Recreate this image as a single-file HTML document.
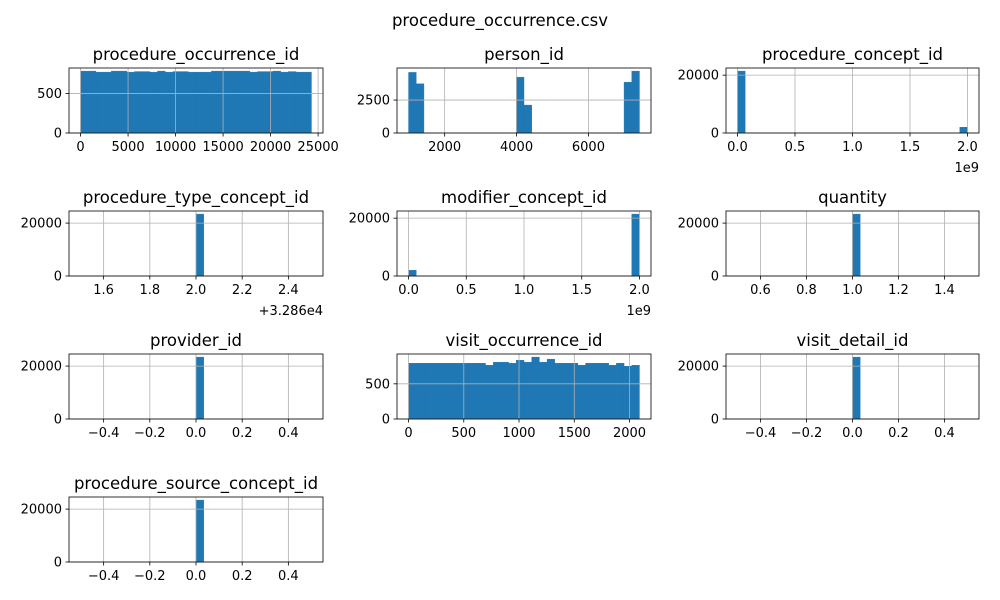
<!DOCTYPE html>
<html><head><meta charset="utf-8">
<style>
html,body{margin:0;padding:0;background:#fff;}
svg{display:block;font-family:"DejaVu Sans","Liberation Sans",sans-serif;}
</style></head>
<body>
<svg id="fig" width="1000" height="600" viewBox="0 0 1000 600">
<text x="500" y="26" text-anchor="middle" font-size="16.5">procedure_occurrence.csv</text>
</svg>
<script>
// ---- data ----
const panelTitles = ["procedure_occurrence_id","person_id","procedure_concept_id","procedure_type_concept_id","modifier_concept_id","quantity","provider_id","visit_occurrence_id","visit_detail_id","procedure_source_concept_id"];
const procOccCounts = [782,782,769,769,782,782,769,776,776,769,782,769,776,776,769,769,769,782,782,782,782,782,769,776,776,782,769,776,769,769];
const personCounts = [4600,3735,0,0,0,0,0,0,0,0,0,0,0,0,4240,2120,0,0,0,0,0,0,0,0,0,0,0,0,3860,4700];
const procConceptCounts = [21400,0,0,0,0,0,0,0,0,0,0,0,0,0,0,0,0,0,0,0,0,0,0,0,0,0,0,0,0,2000];
const modifierCounts = [2000,0,0,0,0,0,0,0,0,0,0,0,0,0,0,0,0,0,0,0,0,0,0,0,0,0,0,0,0,21400];
const singleCount = 23400;
const visitOccCounts = [793,793,793,793,793,793,793,793,793,793,764,808,808,793,836,808,880,808,851,793,793,793,764,793,793,793,764,793,750,764];
const xTicks = [
  [0,5000,10000,15000,20000,25000],
  [2000,4000,6000],
  [0,0.5e9,1e9,1.5e9,2e9],
  [1.6,1.8,2.0,2.2,2.4],
  [0,0.5e9,1e9,1.5e9,2e9],
  [0.6,0.8,1.0,1.2,1.4],
  [-0.4,-0.2,0,0.2,0.4],
  [0,500,1000,1500,2000],
  [-0.4,-0.2,0,0.2,0.4],
  [-0.4,-0.2,0,0.2,0.4]
];
const xTickLabels = [
  ["0","5000","10000","15000","20000","25000"],
  ["2000","4000","6000"],
  ["0.0","0.5","1.0","1.5","2.0"],
  ["1.6","1.8","2.0","2.2","2.4"],
  ["0.0","0.5","1.0","1.5","2.0"],
  ["0.6","0.8","1.0","1.2","1.4"],
  ["\u22120.4","\u22120.2","0.0","0.2","0.4"],
  ["0","500","1000","1500","2000"],
  ["\u22120.4","\u22120.2","0.0","0.2","0.4"],
  ["\u22120.4","\u22120.2","0.0","0.2","0.4"]
];
const yTicks = [[0,500],[0,2500],[0,20000],[0,20000],[0,20000],[0,20000],[0,20000],[0,500],[0,20000],[0,20000]];
const dataMin = [0,995,0,1.5,0,0.5,-0.5,0,-0.5,-0.5];
const dataMax = [24300,7419,2e9,2.5,2e9,1.5,0.5,2090,0.5,0.5];
const offsetTexts = ["","","1e9","+3.286e4","1e9","","","","",""];
function singleBin(){const a=new Array(30).fill(0);a[15]=singleCount;return a;}
const allCounts = [procOccCounts,personCounts,procConceptCounts,singleBin(),modifierCounts,singleBin(),singleBin(),visitOccCounts,singleBin(),singleBin()];

// ---- layout ----
const colX=[69,397,726], colW=[254,254,253];
const rowY=[68,211,354,497], rowH=65;
const NS="http://www.w3.org/2000/svg";
const svg=document.getElementById('fig');
function mk(tag,attrs,parent){const e=document.createElementNS(NS,tag);for(const k in attrs)e.setAttribute(k,attrs[k]);(parent||svg).appendChild(e);return e;}

for(let p=0;p<panelTitles.length;p++){
  const r=Math.floor(p/3), c=p%3;
  const L=colX[c], W=colW[c], T=rowY[r], H=rowH, B=T+H;
  const counts=allCounts[p];
  const dmin=dataMin[p], dmax=dataMax[p], span=dmax-dmin;
  const x0=dmin-0.05*span, x1=dmax+0.05*span;
  const ymax=Math.max(...counts)*1.05;
  const sx=v=>L+(v-x0)/(x1-x0)*W;
  const sy=v=>B-v/ymax*H;
  const g=mk('g',{});
  
  
  // bars
  const bw=span/counts.length;
  counts.forEach((v,i)=>{
    if(v<=0)return;
    const xa=sx(dmin+i*bw), xb=sx(dmin+(i+1)*bw);
    const rect=mk('rect',{x:xa,y:sy(v),width:Math.max(xb-xa,0.5),height:B-sy(v),fill:'#1f77b4',stroke:'#1f77b4','stroke-width':0.4},g);
    
    
  });
  // grid (drawn above bars, as in reference)
  xTicks[p].forEach(t=>{
    const gl=mk('line',{x1:sx(t),x2:sx(t),y1:T,y2:B,stroke:'#b0b0b0','stroke-width':0.8},g);
    
    
  });
  yTicks[p].forEach(t=>{
    const gl=mk('line',{x1:L,x2:L+W,y1:sy(t),y2:sy(t),stroke:'#b0b0b0','stroke-width':0.8},g);
    
    
  });
  // spine
  const sp=mk('rect',{x:L,y:T,width:W,height:H,fill:'none',stroke:'#000','stroke-width':0.8},g);
  
  
  // x ticks
  xTicks[p].forEach((t,i)=>{
    mk('line',{x1:sx(t),x2:sx(t),y1:B,y2:B+3.5,stroke:'#000','stroke-width':0.8},g);
    const tx=mk('text',{x:sx(t),y:B+18,'text-anchor':'middle','font-size':13},g);
    tx.textContent=xTickLabels[p][i];
    
    
  });
  // y ticks
  yTicks[p].forEach(t=>{
    mk('line',{x1:L-3.5,x2:L,y1:sy(t),y2:sy(t),stroke:'#000','stroke-width':0.8},g);
    const ty=mk('text',{x:L-7,y:sy(t)+4.5,'text-anchor':'end','font-size':13},g);
    ty.textContent=String(t);
    
    
  });
  // title
  const tt=mk('text',{x:L+W/2,y:T-8,'text-anchor':'middle','font-size':16.5},g);
  tt.textContent=panelTitles[p];
  
  
  if(offsetTexts[p]){
    const ot=mk('text',{x:L+W,y:B+39,'text-anchor':'end','font-size':13},g);
    ot.textContent=offsetTexts[p];
    
    
  }
}
</script>
</body></html>
